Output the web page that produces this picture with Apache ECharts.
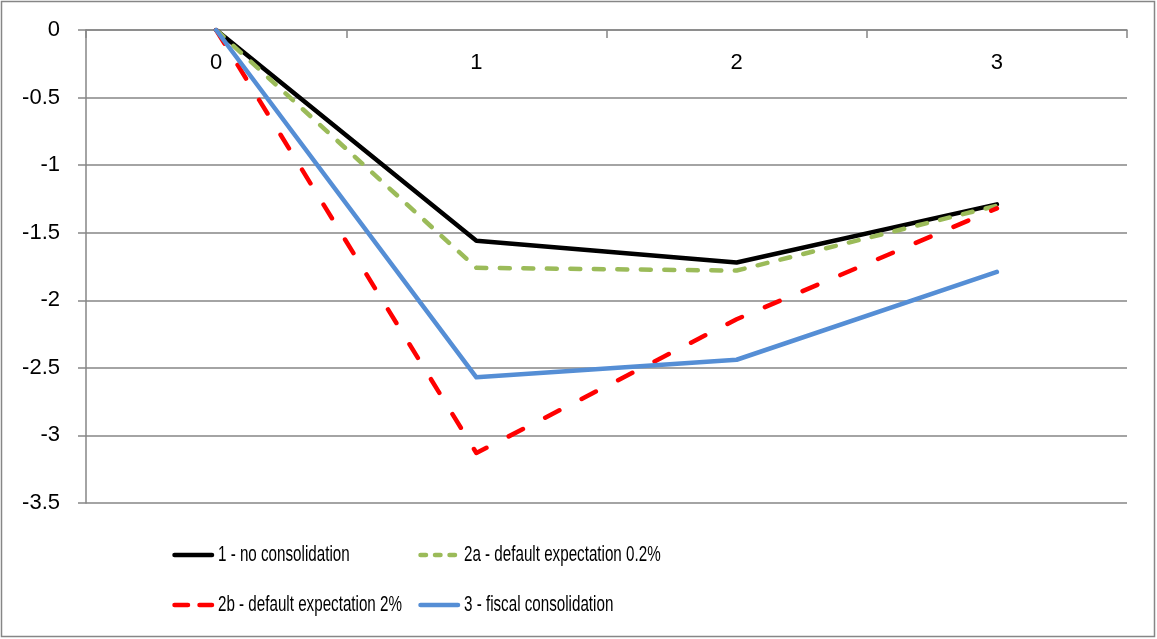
<!DOCTYPE html>
<html>
<head>
<meta charset="utf-8">
<script src="https://cdn.jsdelivr.net/npm/echarts@6/dist/echarts.min.js"></script>
<style>
  html, body { margin: 0; padding: 0; background: #fff; }
  #chart { width: 1157px; height: 639px; }
</style>
</head>
<body>
<div id="chart"></div>
<script>
// Periods after the shock
const periods = ['0', '1', '2', '3'];

// Scenario paths
const noConsolidation = [0, -1.56, -1.72, -1.29];
const defaultExp02 = [0, -1.76, -1.78, -1.30];
const defaultExp2 = [0, -3.13, -2.14, -1.32];
const fiscalConsolidation = [0, -2.57, -2.44, -1.79];

// Scenario names
const seriesNames = [
  '1 - no consolidation',
  '2a - default expectation 0.2%',
  '2b - default expectation 2%',
  '3 - fiscal consolidation'
];

const FONT = '"Liberation Sans", Arial, sans-serif';
const GRID_GRAY = '#868686';
const LINE_W = 4.5;

const styles = [
  { color: '#000000', dash: null,     legendDash: null },
  { color: '#9BBB59', dash: [10, 13.5], legendDash: [5.5, 9] },
  { color: '#FF0000', dash: [16, 25],   legendDash: [13.5, 11.5] },
  { color: '#558ED5', dash: null,     legendDash: null }
];
const seriesData = [noConsolidation, defaultExp02, defaultExp2, fiscalConsolidation];

const chart = echarts.init(document.getElementById('chart'), null, { renderer: 'canvas' });

function lineSeries(i) {
  const s = styles[i];
  return {
    name: seriesNames[i],
    type: 'line',
    data: seriesData[i],
    symbol: 'none',
    showSymbol: false,
    smooth: false,
    lineStyle: {
      color: s.color,
      width: LINE_W,
      type: s.dash || 'solid',
      cap: 'round',
      join: 'round'
    },
    itemStyle: { color: s.color },
    emphasis: { disabled: true }
  };
}

// Two-column key below the plot: sample line plus condensed label
const keySlots = [
  { x: 172, y: 555 },
  { x: 418, y: 555 },
  { x: 172, y: 605 },
  { x: 418, y: 605 }
];

function keyItem(i) {
  const s = styles[i];
  const p = keySlots[i];
  return {
    type: 'group',
    silent: true,
    children: [
      {
        type: 'line',
        shape: { x1: p.x + 2.5, y1: p.y, x2: p.x + 40, y2: p.y },
        style: {
          stroke: s.color,
          lineWidth: LINE_W,
          lineCap: 'round',
          lineDash: s.legendDash || null
        }
      },
      {
        type: 'text',
        x: p.x + 46,
        y: p.y,
        scaleX: 0.69,
        style: {
          text: seriesNames[i],
          font: '22px ' + FONT,
          fill: '#000',
          textVerticalAlign: 'middle',
          verticalAlign: 'middle'
        }
      }
    ]
  };
}

chart.setOption({
  animation: false,
  backgroundColor: '#fff',
  graphic: [
    {
      type: 'rect',
      shape: { x: 1.5, y: 1.5, width: 1153, height: 635 },
      style: { fill: 'none', stroke: GRID_GRAY, lineWidth: 1.5 },
      silent: true
    },
    keyItem(0), keyItem(1), keyItem(2), keyItem(3)
  ],
  grid: { left: 86, right: 30, top: 30, bottom: 136, containLabel: false },
  xAxis: {
    type: 'category',
    data: periods,
    position: 'top',
    boundaryGap: true,
    axisLine: { show: true, onZero: false, lineStyle: { color: GRID_GRAY, width: 1.5 } },
    axisTick: { show: true, inside: true, length: 8, alignWithLabel: false, lineStyle: { color: GRID_GRAY, width: 1.5 } },
    axisLabel: { inside: true, margin: 22, color: '#000', fontFamily: FONT, fontSize: 22 },
    splitLine: { show: false }
  },
  yAxis: {
    type: 'value',
    min: -3.5,
    max: 0,
    interval: 0.5,
    axisLine: { show: true, lineStyle: { color: GRID_GRAY, width: 1.5 } },
    axisTick: { show: true, length: 8, lineStyle: { color: GRID_GRAY, width: 1.5 } },
    axisLabel: { margin: 26, color: '#000', fontFamily: FONT, fontSize: 22 },
    splitLine: { show: true, lineStyle: { color: GRID_GRAY, width: 1.5 } }
  },
  series: [lineSeries(0), lineSeries(1), lineSeries(2), lineSeries(3)]
});
</script>
</body>
</html>
